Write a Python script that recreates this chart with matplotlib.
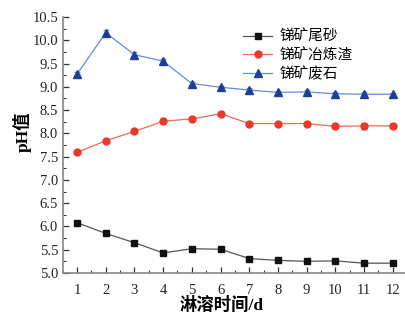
import matplotlib
matplotlib.use("Agg")
import matplotlib.pyplot as plt
from matplotlib.ticker import MultipleLocator, FormatStrFormatter

plt.rcParams['font.family'] = ['Liberation Serif', 'Noto Sans CJK SC']
plt.rcParams['axes.unicode_minus'] = False

days = [1, 2, 3, 4, 5, 6, 7, 8, 9, 10, 11, 12]
tailings = [6.08, 5.85, 5.65, 5.43, 5.52, 5.51, 5.31, 5.27, 5.25, 5.26, 5.21, 5.21]
tailings_err = [0.03, 0.03, 0.03, 0.03, 0.02, 0.02, 0.02, 0.02, 0.03, 0.02, 0.02, 0.03]
slag = [7.59, 7.84, 8.04, 8.26, 8.31, 8.42, 8.21, 8.21, 8.21, 8.15, 8.16, 8.16]
slag_err = [0.03, 0.03, 0.04, 0.04, 0.03, 0.03, 0.03, 0.03, 0.03, 0.03, 0.07, 0.05]
waste = [9.27, 10.16, 9.69, 9.55, 9.07, 8.99, 8.93, 8.88, 8.89, 8.85, 8.84, 8.84]
waste_err = [0.04, 0.05, 0.05, 0.05, 0.03, 0.03, 0.04, 0.03, 0.05, 0.03, 0.04, 0.03]
labels = ['锑矿尾砂', '锑矿冶炼渣', '锑矿废石']

fig = plt.figure(figsize=(4.06, 3.2), dpi=100)
ax = fig.add_axes([0.155, 0.147, 0.842, 0.8])

e1 = ax.errorbar(days, tailings, yerr=tailings_err, color='#555555', lw=0.9,
                 marker='s', ms=4.5, mfc='#111111', mec='#111111',
                 ecolor='#777777', elinewidth=0.8, capsize=2)
e2 = ax.errorbar(days, slag, yerr=slag_err, color='#f26a55', lw=0.9,
                 marker='o', ms=5, mfc='#e8392a', mec='#e8392a',
                 ecolor='#f08070', elinewidth=0.8, capsize=2)
e3 = ax.errorbar(days, waste, yerr=waste_err, color='#5f8ed8', lw=0.9,
                 marker='^', ms=5.5, mfc='#1d3f96', mec='#1d3f96',
                 ecolor='#7f9fd8', elinewidth=0.8, capsize=2)

ax.set_xlim(0.51, 12.42)
ax.set_ylim(5.0, 10.5)
ax.set_xticks(days)
ax.xaxis.set_minor_locator(MultipleLocator(0.5))
ax.yaxis.set_major_locator(MultipleLocator(0.5))
ax.yaxis.set_minor_locator(MultipleLocator(0.25))
ax.yaxis.set_major_formatter(FormatStrFormatter('%.1f'))

for s in ['top', 'right']:
    ax.spines[s].set_visible(False)
for s in ['left', 'bottom']:
    ax.spines[s].set_color('#888888')
    ax.spines[s].set_linewidth(1.2)

ax.tick_params(which='both', direction='in', colors='#333333', labelsize=10.5, labelcolor='#222222')
ax.tick_params(which='major', length=4, width=0.9)
ax.tick_params(which='minor', length=2, width=0.8)
ax.tick_params(axis='x', pad=8)

ax.set_xlabel('淋溶时间/d', fontsize=12.5, fontweight='bold')
ax.set_ylabel('pH值', fontsize=12.5, fontweight='bold')
ax.xaxis.set_label_coords(0.465, -0.095)
ax.yaxis.set_label_coords(-0.09, 0.55)

ax.legend(handles=[e1[0], e2[0], e3[0]], labels=labels,
          loc='upper left', bbox_to_anchor=(0.489, 1.0), frameon=False,
          prop={'size': 10.5, 'weight': 'light'},
          handlelength=2.0, handletextpad=0.5, labelspacing=0.3)

fig.savefig('out.png', dpi=100)
